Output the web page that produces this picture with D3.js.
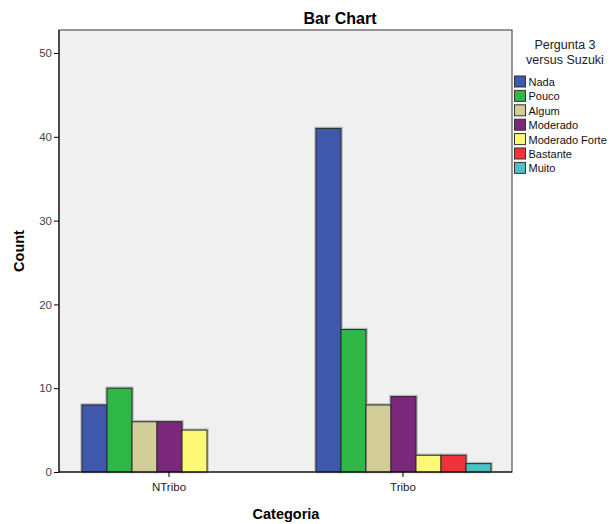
<!DOCTYPE html>
<html><head><meta charset="utf-8">
<script src="https://cdn.jsdelivr.net/npm/d3@7"></script>
<style>body{margin:0;background:#fff}svg{display:block}</style>
</head><body>
<svg id="c" width="614" height="524"></svg>
<script>
const categories = ["NTribo", "Tribo"];
const seriesNames = ["Nada", "Pouco", "Algum", "Moderado", "Moderado Forte", "Bastante", "Muito"];
const seriesColors = ["#3f58ab", "#2fb847", "#d3ce98", "#7b287c", "#fbf874", "#ef3339", "#48c2c5"];
const valuesNTribo = [8, 10, 6, 6, 5, 0, 0];
const valuesTribo = [41, 17, 8, 9, 2, 2, 1];
const yTicks = [0, 10, 20, 30, 40, 50];

const values = {NTribo: valuesNTribo, Tribo: valuesTribo};
const svg = d3.select("#c");
const L = 59, R = 512, T = 30, B = 472;

const y = d3.scaleLinear().domain([0, 50]).range([B, 53]);
const x = d3.scalePoint().domain(categories).range([L, R]).padding(0.468);
const xi = d3.scaleBand().domain(seriesNames).range([-86.5, 88.5]);

// plot background
svg.append("rect").attr("x", L).attr("y", T).attr("width", R - L).attr("height", B - T)
  .attr("fill", "#f0f0f0").attr("stroke", "#555").attr("stroke-width", 1.2);

// bars
const data = [];
categories.forEach(c => values[c].forEach((v, i) => { if (v > 0) data.push({c, s: seriesNames[i], v, col: seriesColors[i]}); }));
const g = svg.append("g");
g.selectAll("rect.shadow").data(data).join("rect")
  .attr("x", d => x(d.c) + xi(d.s) - 0.5)
  .attr("y", d => y(d.v) - 0.5)
  .attr("width", xi.bandwidth() + 1)
  .attr("height", d => B - y(d.v) + 0.5)
  .attr("fill", "none").attr("stroke", "#bbb").attr("stroke-width", 2.5);
g.selectAll("rect.bar").data(data).join("rect")
  .attr("x", d => x(d.c) + xi(d.s))
  .attr("y", d => y(d.v))
  .attr("width", xi.bandwidth())
  .attr("height", d => B - y(d.v))
  .attr("fill", d => d.col).attr("stroke", "#2a2a2a").attr("stroke-width", 1);

// y axis
const ya = svg.append("g").attr("transform", `translate(${L},0)`)
  .call(d3.axisLeft(y).tickValues(yTicks).tickSize(5).tickPadding(2));
ya.select(".domain").attr("d", `M0,${T}V${B}`).attr("stroke", "#000");
ya.selectAll("text").attr("font-family", "Liberation Sans, Arial, sans-serif").attr("font-size", 11.5).attr("fill", "#444");
ya.selectAll("line").attr("stroke", "#000");

// x axis
const xa = svg.append("g").attr("transform", `translate(0,${B})`)
  .call(d3.axisBottom(x).tickSize(5).tickPadding(6));
xa.select(".domain").attr("d", `M${L},0H${R}`).attr("stroke", "#000");
xa.selectAll("text").attr("font-family", "Liberation Sans, Arial, sans-serif").attr("font-size", 11.5).attr("fill", "#222");
xa.selectAll("line").attr("stroke", "#000");

// titles
svg.append("text").attr("x", 340).attr("y", 24).attr("text-anchor", "middle")
  .attr("font-family", "Liberation Sans, Arial, sans-serif").attr("font-weight", "bold").attr("font-size", 16).text("Bar Chart");
svg.append("text").attr("x", 286).attr("y", 519).attr("text-anchor", "middle")
  .attr("font-family", "Liberation Sans, Arial, sans-serif").attr("font-weight", "bold").attr("font-size", 14.5).text("Categoria");
svg.append("text").attr("transform", "translate(24,251) rotate(-90)").attr("text-anchor", "middle")
  .attr("font-family", "Liberation Sans, Arial, sans-serif").attr("font-weight", "bold").attr("font-size", 14.5).text("Count");

// legend
const lg = svg.append("g");
lg.append("text").attr("x", 565).attr("y", 49).attr("text-anchor", "middle")
  .attr("font-family", "Liberation Sans, Arial, sans-serif").attr("font-size", 12.5).attr("fill", "#222").text("Pergunta 3");
lg.append("text").attr("x", 565).attr("y", 64).attr("text-anchor", "middle")
  .attr("font-family", "Liberation Sans, Arial, sans-serif").attr("font-size", 12.5).attr("fill", "#222").text("versus Suzuki");
const items = lg.selectAll("g.it").data(seriesNames).join("g")
  .attr("transform", (d, i) => `translate(514.5,${76 + i * 14.4})`);
items.append("rect").attr("width", 11).attr("height", 11)
  .attr("fill", (d, i) => seriesColors[i]).attr("stroke", "#333").attr("stroke-width", 1);
items.append("text").attr("x", 14).attr("y", 10)
  .attr("font-family", "Liberation Sans, Arial, sans-serif").attr("font-size", 11).attr("fill", "#111").text(d => d);
</script>
</body></html>
